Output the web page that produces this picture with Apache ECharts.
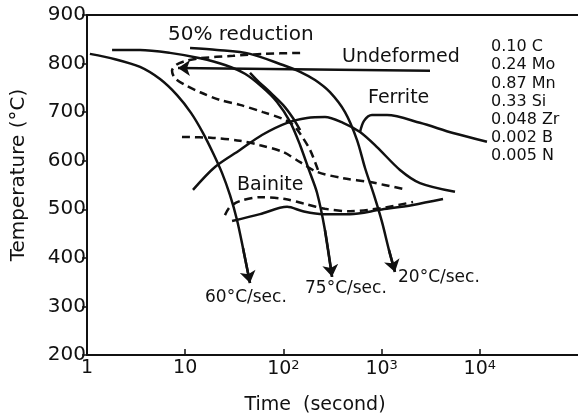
<!DOCTYPE html>
<html>
<head>
<meta charset="utf-8">
<title>CCT diagram</title>
<script src="https://cdn.jsdelivr.net/npm/echarts@6/dist/echarts.min.js"></script>
<style>html,body{margin:0;padding:0;background:#fff;}</style>
</head>
<body>
<div id="main" style="width:578px;height:418px;"></div>
<script>
// [time (s), temperature (°C)]
var cool60 = [[1.07,820],[1.93,809],[3.47,793],[5.54,768],[8.26,735],[11.5,698],[15.2,657],[19.2,616],[23.7,575],[28.6,529],[33.7,478],[38.8,420],[45.7,348]];
var cool75 = [[1.80,828],[3.47,828],[7.0,822],[14.2,811],[25.4,797],[40.6,779],[60.5,752],[86.1,721],[117,680],[148,632],[182,581],[220,534],[265,457],[313,361]];
var cool20 = [[11.2,832],[21.1,828],[45.7,820],[99,797],[148,783],[210,766],[298,741],[424,700],[561,643],[678,585],[837,529],[1009,474],[1189,416],[1368,371]];
var undeformedArrow = [[3112,785],[8.45,791]];
var undeformedStart = [[45.7,781],[53.8,766],[73.1,741],[99,715],[125,688],[148,663]];
var ferriteStartDef = [[148,822],[65,820],[30.7,816],[14.2,811],[9.95,805],[8.06,797],[7.34,785],[7.87,770],[9.95,756],[14.2,741],[22.6,725],[36.1,715],[62,700],[99,686],[125,674],[151,653],[187,622],[225,581]];
var ferriteEndDef = [[9.27,649],[19.2,647],[36.1,641],[57.8,632],[99,618],[148,597],[220,577],[405,564],[762,556],[1652,542]];
var ferriteA = [[12.0,540],[20.1,587],[36.1,622],[60.5,653],[109,678],[174,688],[265,690],[405,678],[603,659],[898,628],[1539,581],[2460,554],[5590,536]];
var ferriteB = [[603,659],[662,682],[798,694],[1135,694],[2460,678],[5335,657],[11830,639]];
var bainiteDashed = [[25.4,488],[28.6,505],[36.1,517],[57.8,525],[104,521],[166,511],[265,501],[477,496],[963,502],[2090,515]];
var bainiteSolid = [[30,476],[57.8,490],[109,505],[158,496],[253,490],[477,490],[963,499],[2090,509],[4220,521]];

var yTicks = [200, 300, 400, 500, 600, 700, 800, 900];
var composition = ['0.10 C', '0.24 Mo', '0.87 Mn', '0.33 Si', '0.048 Zr', '0.002 B', '0.005 N'];

var ink = '#111';
var font = 'DejaVu Sans';

function curve(data, dashed) {
  return {
    type: 'line', data: data, smooth: 0.3, symbol: 'none', silent: true,
    lineStyle: { color: ink, width: 2.5, type: dashed ? [8, 5] : 'solid' }
  };
}
function lastSeg(d) { return { coords: [d[d.length - 2], d[d.length - 1]] }; }

function label(text, x, y, size) {
  return { type: 'text', x: x, y: y, style: { text: text, fill: ink, font: size + 'px "' + font + '"', textVerticalAlign: 'middle' } };
}

var myChart = echarts.init(document.getElementById('main'));
var option = {
  animation: false,
  backgroundColor: '#fff',
  grid: { left: 87, right: 0, top: 15, bottom: 63 },
  xAxis: [{
    type: 'log', logBase: 10, min: 1, max: 100000,
    axisLine: { lineStyle: { color: ink, width: 2 } },
    axisTick: { inside: true, length: 6, lineStyle: { color: ink, width: 1.5 } },
    splitLine: { show: false },
    axisLabel: {
      color: ink, fontFamily: font, fontSize: 19, margin: 4, showMaxLabel: false,
      formatter: function (v) {
        var e = Math.round(Math.log10(v));
        if (e === 0) return '1';
        if (e === 1) return '10';
        if (e >= 5) return '';
        return '10{s|' + e + '}';
      },
      rich: { s: { fontSize: 13, fontFamily: font, color: ink, verticalAlign: 'top', padding: [0, 0, 8, 0] } }
    }
  }, {
    type: 'log', logBase: 10, min: 1, max: 100000, position: 'top',
    axisLine: { lineStyle: { color: ink, width: 2 } },
    axisTick: { show: false }, axisLabel: { show: false }, splitLine: { show: false }
  }],
  yAxis: {
    type: 'value', min: yTicks[0], max: yTicks[yTicks.length - 1], interval: 100,
    axisLine: { show: true, lineStyle: { color: ink, width: 2 } },
    axisTick: { show: true, inside: false, length: 5, lineStyle: { color: ink, width: 1.5 } },
    splitLine: { show: false },
    axisLabel: { color: ink, fontFamily: font, fontSize: 20, margin: 1 }
  },
  graphic: [
    { type: 'text', x: 19, y: 175, rotation: Math.PI / 2,
      style: { text: 'Temperature (°C)', fill: ink, font: '20px "' + font + '"', textAlign: 'center', textVerticalAlign: 'middle' } },
    { type: 'text', x: 315, y: 405,
      style: { text: 'Time  (second)', fill: ink, font: '19px "' + font + '"', textAlign: 'center', textVerticalAlign: 'middle' } },
    label('50% reduction', 168, 35, 20),
    label('Undeformed', 342, 57, 19),
    label('Ferrite', 368, 98, 19),
    label('Bainite', 237, 185, 19),
    label('60°C/sec.', 205, 298, 17),
    label('75°C/sec.', 305, 289, 17),
    label('20°C/sec.', 398, 278, 17),
    { type: 'text', x: 491, y: 38,
      style: { text: composition.join('\n'), fill: ink, font: '16px "' + font + '"', lineHeight: 18.2, textVerticalAlign: 'top' } }
  ],
  series: [
    curve(cool60, false),
    curve(cool75, false),
    curve(cool20, false),
    curve(undeformedStart, false),
    curve(ferriteStartDef, true),
    curve(ferriteEndDef, true),
    curve(ferriteA, false),
    curve(ferriteB, false),
    curve(bainiteDashed, true),
    curve(bainiteSolid, false),
    {
      type: 'lines', coordinateSystem: 'cartesian2d', silent: true,
      symbol: ['none', 'arrow'], symbolSize: 12,
      lineStyle: { color: ink, width: 2.5, opacity: 1, curveness: 0 },
      data: [lastSeg(cool60), lastSeg(cool75), lastSeg(cool20), { coords: undeformedArrow }]
    }
  ]
};
myChart.setOption(option);
</script>
</body>
</html>
